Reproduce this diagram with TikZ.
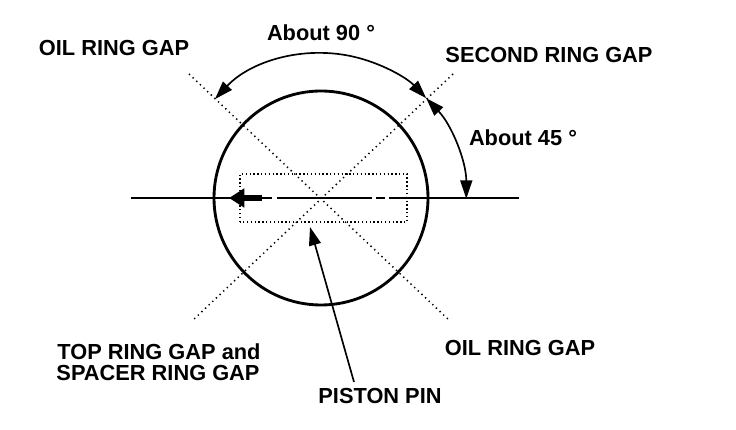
\documentclass[tikz,border=0pt]{standalone}
\usepackage{fontspec}
\setmainfont{Liberation Sans}
\usepackage{tikz}
\usetikzlibrary{calc}
\usetikzlibrary{arrows.meta}
\definecolor{ink}{RGB}{0,0,0}

\begin{document}
\begin{tikzpicture}[x=0.03cm, y=0.03cm, >={Triangle[length=0.55cm,width=0.36cm]},
lbl/.style={font=\bfseries\fontsize{18.6}{21}\selectfont,text=ink,inner sep=0pt},
gapline/.style={ink,dash pattern=on 0.4mm off 1.1mm,line width=0.45mm},
pinbox/.style={ink,dash pattern=on 0.4mm off 0.75mm,line width=0.4mm},
thickcircle/.style={ink,line width=0.85mm},
arcline/.style={ink,line width=0.5mm}]

\useasboundingbox (0,0) rectangle (736,430);

\coordinate (o) at (321,232);

% gap lines
\coordinate (nw) at (189,356);
\coordinate (se) at (450,109);
\coordinate (ne) at (453,356);
\coordinate (sw) at (192,109);
\draw[gapline] (nw) -- (se);
\draw[gapline] (ne) -- (sw);

% piston pin
\draw[pinbox] (240,208) rectangle (407,256);
\coordinate (hl) at (131,232);
\coordinate (hr) at (519,232);
\coordinate (ha) at (262,232);
\coordinate (hb) at (272,232);
\coordinate (hc) at (277,232);
\coordinate (hd) at (372,232);
\coordinate (he) at (376,232);
\coordinate (hf) at (385,232);
\coordinate (hg) at (389,232);
\draw[ink,line width=0.5mm] (hl) -- (ha);
\draw[ink,line width=0.5mm] (ha) -- (hb);
\draw[ink,line width=0.5mm] (hc) -- (hd);
\draw[ink,line width=0.5mm] (he) -- (hf);
\draw[ink,line width=0.5mm] (hg) -- (hr);

\draw[thickcircle] (o) circle (107);

% direction arrow
\coordinate (fronttip) at (229,232);
\coordinate (fronttail) at (262,232);
\draw[->,ink,line width=1.9mm,>={Triangle[length=0.46cm,width=0.55cm]}] (fronttail) -- (fronttip);

% angle arcs
\coordinate (a1) at ($(o)+(137:145)$);
\coordinate (a2) at ($(o)+(43.5:145)$);
\coordinate (a3) at ($(o)+(0:146)$);
\draw[<->,arcline] (a1) arc[start angle=137,end angle=43.5,radius=145];
\draw[<->,arcline] (a2) arc[start angle=43.5,end angle=0,radius=146];

% pin leader
\coordinate (pintip) at (310,203);
\coordinate (pintail) at (354,48);
\draw[->,arcline] (pintail) -- (pintip);

\node[lbl] (oil1) at (114,382) {OIL RING GAP};
\node[lbl] (ang90) at (321,397) {About 90 °};
\node[lbl] (second) at (549,375) {SECOND RING GAP};
\node[lbl] (ang45) at (523,292) {About 45 °};
\node[lbl] (top) at (159,78) {TOP RING GAP and};
\node[lbl] (spacer) at (158,57) {SPACER RING GAP};
\node[lbl] (oil2) at (520,82) {OIL RING GAP};
\node[lbl] (pin) at (380,34) {PISTON PIN};
\end{tikzpicture}
\end{document}
